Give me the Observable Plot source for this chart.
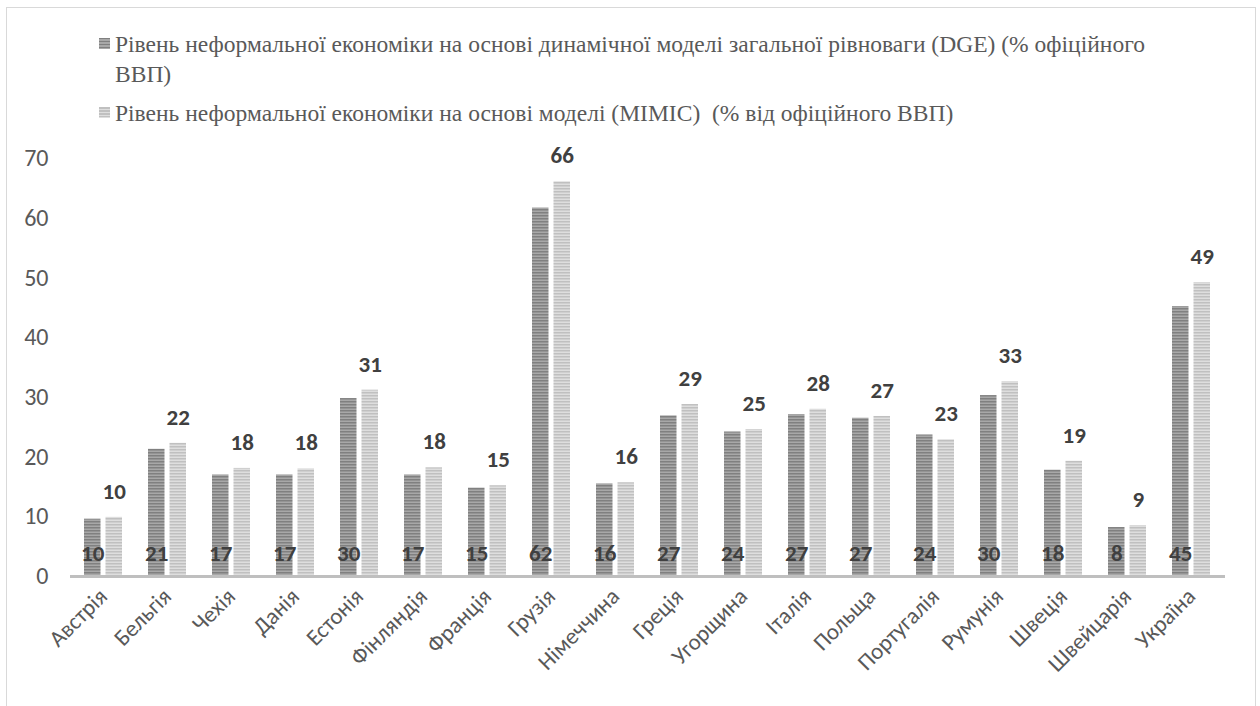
<!DOCTYPE html>
<html>
<head>
<meta charset="utf-8">
<script src="https://cdn.jsdelivr.net/npm/d3@7"></script>
<script src="https://cdn.jsdelivr.net/npm/@observablehq/plot@0.6"></script>
<style>
  html, body { margin: 0; padding: 0; background: #fff; }
  #frame { position: absolute; left: 6px; top: 7px; width: 1248px; height: 720px; border: 1px solid #d9d9d9; overflow: hidden; background: #fff; }
  #legend { height: 132px; box-sizing: border-box; padding-top: 22px; font-size: 23px; line-height: 30px; color: #595959; }
  #legend, #legend * { font-family: 'Liberation Serif', 'Tinos', 'Times New Roman', serif; }
  .item { position: relative; padding-left: 108px; white-space: nowrap; }
  .item + .item { margin-top: 9px; }
  .txt { display: inline-block; transform-origin: 0 0; }
  .sw { position: absolute; left: 92px; top: 8px; width: 11px; height: 11px; }
  .sw.dge { background: repeating-linear-gradient(#808080 0 1.5px, #a8a8a8 1.5px 3px); }
  .sw.mimic { background: repeating-linear-gradient(#c0c0c0 0 1.5px, #dedede 1.5px 3px); }
  svg { display: block; }
</style>
</head>
<body>
<div id="frame">
  <div id="legend">
    <div class="item"><span class="sw dge"></span><span class="txt"><span id="l1">Рівень неформальної економіки на основі динамічної моделі загальної рівноваги (DGE) (% офіційного</span><br>ВВП)</span></div>
    <div class="item"><span class="sw mimic"></span><span class="txt">Рівень неформальної економіки на основі моделі (MIMIC)&nbsp; (% від офіційного ВВП)</span></div>
  </div>
  <div id="chart"></div>
</div>
<script>
const countries = ["Австрія","Бельгія","Чехія","Данія","Естонія","Фінляндія","Франція","Грузія","Німеччина","Греція","Угорщина","Італія","Польща","Португалія","Румунія","Швеція","Швейцарія","Україна"];
const dgeValues   = [9.6, 21.3, 17.0, 17.0, 29.8, 17.0, 14.8, 61.7, 15.5, 26.9, 24.2, 27.1, 26.5, 23.7, 30.3, 17.8, 8.2, 45.2];
const mimicValues = [9.9, 22.3, 18.1, 18.0, 31.2, 18.2, 15.2, 66.1, 15.7, 28.8, 24.6, 28.0, 26.8, 22.9, 32.6, 19.3, 8.5, 49.2];
const yTicks = [0, 10, 20, 30, 40, 50, 60, 70];

const dge = countries.map((c, i) => ({country: c, value: dgeValues[i]}));
const mimic = countries.map((c, i) => ({country: c, value: mimicValues[i]}));

const labelFont = {fontFamily: "Carlito, Lato, 'Open Sans', sans-serif", fontSize: 23, fontWeight: "bold", fill: "#404040"};

const chart = Plot.plot({
  width: 1248,
  height: 566,
  marginLeft: 63,
  marginRight: 30,
  marginTop: 18,
  marginBottom: 130,
  style: {fontFamily: "Carlito, Lato, 'Open Sans', sans-serif", background: "#fff"},
  x: {domain: countries, paddingInner: 0.4, paddingOuter: 0.2, label: null},
  y: {domain: [0, 70], label: null},
  marks: [
    Plot.barY(dge, {x: "country", y: "value", fill: "url(#dgePat)", insetRight: 21.5, insetLeft: 0}),
    Plot.barY(mimic, {x: "country", y: "value", fill: "url(#mimicPat)", insetLeft: 21.5, insetRight: 0}),
    Plot.ruleY([0], {stroke: "#bfbfbf", strokeWidth: 3}),
    Plot.axisY({ticks: yTicks, tickSize: 0, tickPadding: 22, fontSize: 24, fill: "#595959", label: null}),
    Plot.axisX({tickSize: 0, tickPadding: 16, tickRotate: -45, fontSize: 23, fill: "#595959", label: null}),
    Plot.text(dge, {x: "country", y: 0, text: d => String(Math.round(d.value)), dx: -10.75, dy: -23, ...labelFont}),
    Plot.text(mimic, {x: "country", y: "value", text: d => String(Math.round(d.value)), dx: 10.75, dy: -26, ...labelFont})
  ]
});

const defs = d3.select(chart).insert("defs", ":first-child");
const p1 = defs.append("pattern").attr("id", "dgePat").attr("patternUnits", "userSpaceOnUse").attr("width", 4).attr("height", 3);
p1.append("rect").attr("width", 4).attr("height", 3).attr("fill", "#a8a8a8");
p1.append("rect").attr("width", 4).attr("height", 1.5).attr("fill", "#808080");
const p2 = defs.append("pattern").attr("id", "mimicPat").attr("patternUnits", "userSpaceOnUse").attr("width", 4).attr("height", 3);
p2.append("rect").attr("width", 4).attr("height", 3).attr("fill", "#dedede");
p2.append("rect").attr("width", 4).attr("height", 1.5).attr("fill", "#c0c0c0");

document.getElementById("chart").appendChild(chart);

// fit legend first line to the reference width (~1030px)
const w = document.getElementById("l1").getBoundingClientRect().width;
let s = w > 0 ? 1030 / w : 1;
s = Math.max(0.8, Math.min(1.25, s));
document.querySelectorAll(".txt").forEach(el => { el.style.transform = `scaleX(${s})`; });
</script>
</body>
</html>
